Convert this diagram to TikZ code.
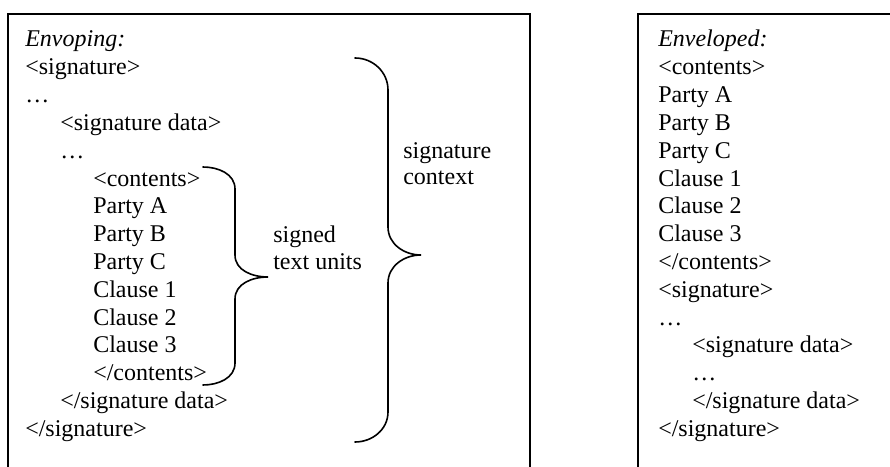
\documentclass[tikz,border=0pt]{standalone}
\usepackage{fontspec}
\setmainfont{Liberation Serif}
\usetikzlibrary{positioning}

\begin{document}
\begin{tikzpicture}[x=0.75pt,y=0.75pt,
  txt/.style={anchor=base west,inner sep=0pt,font=\fontsize{18}{21}\selectfont},
  frame/.style={line width=1.2pt},
  brace/.style={line width=1.2pt,line cap=round}]
\useasboundingbox (0,0) rectangle (890,-467);

\draw[frame] (8,-480) -- (8,-14) -- (530,-14) -- (530,-480);
\draw[frame] (638,-480) -- (638,-14) -- (900,-14);

% enveloping
\node[txt] (lhead) at (25,-47.0) {\textit{Envoping:}};
\node[txt] (lsig) at (25,-74.8) {<signature>};
\node[txt] (ldots) at (25,-102.6) {…};
\node[txt] (lsdata) at (60,-130.4) {<signature data>};
\node[txt] (ldots2) at (60,-158.2) {…};
\node[txt] (lcont) at (93,-186.0) {<contents>};
\node[txt] (lpa) at (93,-213.8) {Party A};
\node[txt] (lpb) at (93,-241.6) {Party B};
\node[txt] (lpc) at (93,-269.4) {Party C};
\node[txt] (lc1) at (93,-297.2) {Clause 1};
\node[txt] (lc2) at (93,-325.0) {Clause 2};
\node[txt] (lc3) at (93,-352.8) {Clause 3};
\node[txt] (lcontend) at (93,-380.6) {</contents>};
\node[txt] (lsdataend) at (60,-408.4) {</signature data>};
\node[txt] (lsigend) at (25,-436.2) {</signature>};

\node[txt] (stu1) at (273,-242) {signed};
\node[txt] (stu2) at (273,-269) {text units};
\node[txt] (sctx1) at (403,-158) {signature};
\node[txt] (sctx2) at (403,-185) {context};

% braces
\coordinate (inA) at (203,-167);
\coordinate (inTip) at (268,-277);
\coordinate (inB) at (203,-385);
\draw[brace] (inA) to[out=0,in=90] (235,-189) -- (235,-255)
  to[out=-90,in=180] (inTip) to[out=180,in=90] (235,-299) -- (235,-363)
  to[out=-90,in=0] (inB);
\coordinate (outA) at (355,-58);
\coordinate (outTip) at (421,-255);
\coordinate (outB) at (355,-442);
\draw[brace] (outA) to[out=0,in=90] (388,-90) -- (388,-227)
  to[out=-90,in=180] (outTip) to[out=180,in=90] (388,-283) -- (388,-412)
  to[out=-90,in=0] (outB);

% enveloped
\node[txt] (rhead) at (658,-47.0) {\textit{Enveloped:}};
\node[txt] (rcont) at (658,-74.8) {<contents>};
\node[txt] (rpa) at (658,-102.6) {Party A};
\node[txt] (rpb) at (658,-130.4) {Party B};
\node[txt] (rpc) at (658,-158.2) {Party C};
\node[txt] (rc1) at (658,-186.0) {Clause 1};
\node[txt] (rc2) at (658,-213.8) {Clause 2};
\node[txt] (rc3) at (658,-241.6) {Clause 3};
\node[txt] (rcontend) at (658,-269.4) {</contents>};
\node[txt] (rsig) at (658,-297.2) {<signature>};
\node[txt] (rdots) at (658,-325.0) {…};
\node[txt] (rsdata) at (692,-352.8) {<signature data>};
\node[txt] (rdots2) at (692,-380.6) {…};
\node[txt] (rsdataend) at (692,-408.4) {</signature data>};
\node[txt] (rsigend) at (658,-436.2) {</signature>};
\end{tikzpicture}
\end{document}
